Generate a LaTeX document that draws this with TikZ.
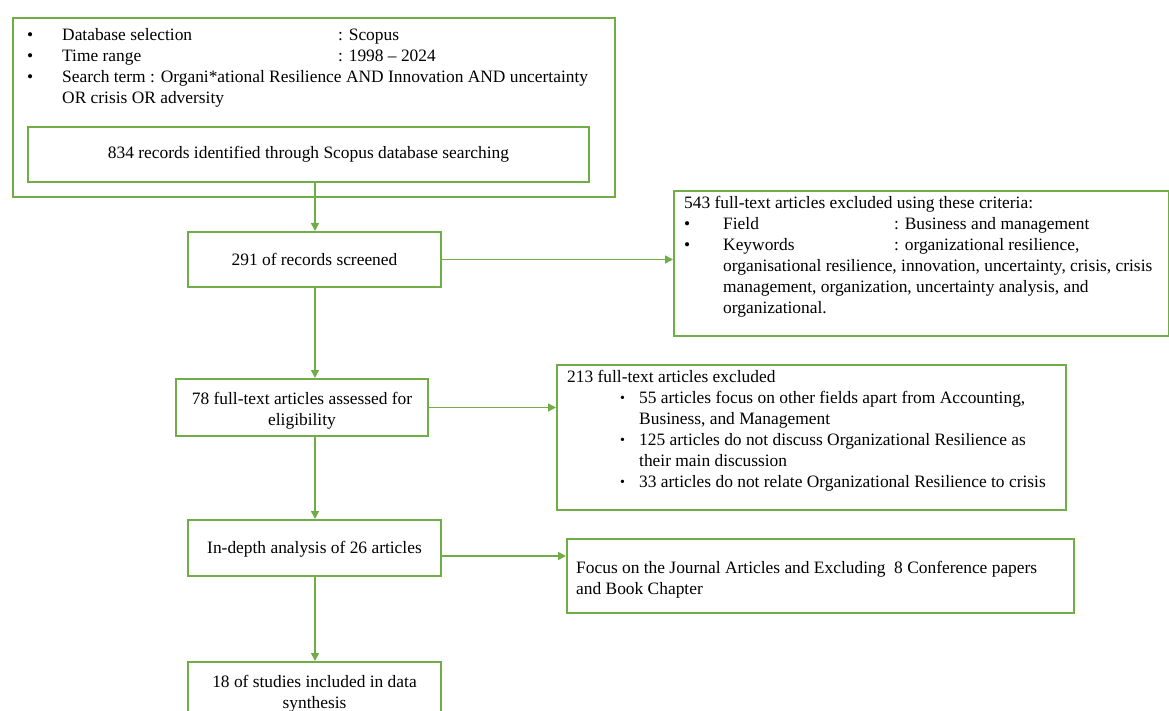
\documentclass[tikz,border=0pt]{standalone}
\usepackage{fontspec}
\setmainfont{Liberation Serif}
\usetikzlibrary{arrows.meta,positioning}
\definecolor{prgreen}{HTML}{70AD47}
\newcommand{\smallbullet}{\raisebox{1pt}{\fontsize{14}{14}\selectfont •}}

\begin{document}
\begin{tikzpicture}[x = 1pt, y = -1pt,
		box/.style = {draw = prgreen, line width = 2pt, inner sep = 0pt, anchor = north west},
		txt/.style = {inner sep = 0pt, anchor = north west, align = left},
		flow/.style = {draw = prgreen, line width = 1.6pt, -{Triangle[length = 8pt, width = 8pt]}},
		every node/.append style = {font = \fontsize{17.4}{21}\selectfont}]
			\useasboundingbox (0, 0) rectangle (1169, 711);
			\coordinate (spine) at (315, 0);
			\node[box, minimum width = 602pt, minimum height = 179pt] (scope) at (12, 17) {};
			\node[txt] (scopetxt) at (27, 28) {\makebox[35pt][l]{•}\makebox[276pt][l]{Database selection}: Scopus\\
				\makebox[35pt][l]{•}\makebox[276pt][l]{Time range}: 1998 – 2024\\
				\makebox[35pt][l]{•}Search term : Organi*ational Resilience AND Innovation AND uncertainty\\
				\hspace*{35pt}OR crisis OR adversity};
			\node[box, minimum width = 561pt, minimum height = 55pt] (found) at (27, 126) {834 records identified through Scopus database searching};
			\node[box, minimum width = 253pt, minimum height = 55pt] (screen) at (187, 231) {291 of records screened};
			\node[box, minimum width = 495pt, minimum height = 145pt] (crit) at (673, 190) {};
			\node[txt] (crittxt) at (684, 196) {543 full-text articles excluded using these criteria:\\
				\makebox[39pt][l]{•}\makebox[171pt][l]{Field}: Business and management\\
				\makebox[39pt][l]{•}\makebox[171pt][l]{Keywords}: organizational resilience,\\
				\hspace*{39pt}organisational resilience, innovation, uncertainty, crisis, crisis\\
				\hspace*{39pt}management, organization, uncertainty analysis, and\\
				\hspace*{39pt}organizational.};
			\node[box, minimum width = 252pt, minimum height = 57pt, align = center] (elig) at (175, 378) {\rule{0pt}{18pt}78 full-text articles assessed for\\eligibility};
			\node[box, minimum width = 509pt, minimum height = 145pt] (drop) at (556, 364) {};
			\node[txt] (droptxt) at (567, 370) {213 full-text articles excluded\\
				\hspace*{53pt}\makebox[19pt][l]{\smallbullet}55 articles focus on other fields apart from Accounting,\\
				\hspace*{72pt}Business, and Management\\
				\hspace*{53pt}\makebox[19pt][l]{\smallbullet}125 articles do not discuss Organizational Resilience as\\
				\hspace*{72pt}their main discussion\\
				\hspace*{53pt}\makebox[19pt][l]{\smallbullet}33 articles do not relate Organizational Resilience to crisis};
			\node[box, minimum width = 253pt, minimum height = 56pt] (depth) at (187, 519) {\rule{0pt}{15pt}In-depth analysis of 26 articles};
			\node[box, minimum width = 507pt, minimum height = 74pt] (focus) at (566, 538) {};
			\node[txt] (focustxt) at (576, 561) {Focus on the Journal Articles and Excluding\ \ 8 Conference papers\\and Book Chapter};
			\node[box, minimum width = 253pt, minimum height = 63pt, align = center] (incl) at (187, 661) {18 of studies included in data\\synthesis};
			\draw[flow] (found.south -| spine) -- (screen.north -| spine);
			\draw[flow] (screen.south -| spine) -- (elig.north -| spine);
			\draw[flow] (elig.south -| spine) -- (depth.north -| spine);
			\draw[flow] (depth.south -| spine) -- (incl.north -| spine);
			\draw[flow] (screen.east) -- (screen.east -| crit.west);
			\draw[flow] (elig.east) -- (elig.east -| drop.west);
			\draw[flow] ([yshift = -8pt]depth.east) -- ([yshift = -8pt]depth.east -| focus.west);
\end{tikzpicture}
\end{document}
